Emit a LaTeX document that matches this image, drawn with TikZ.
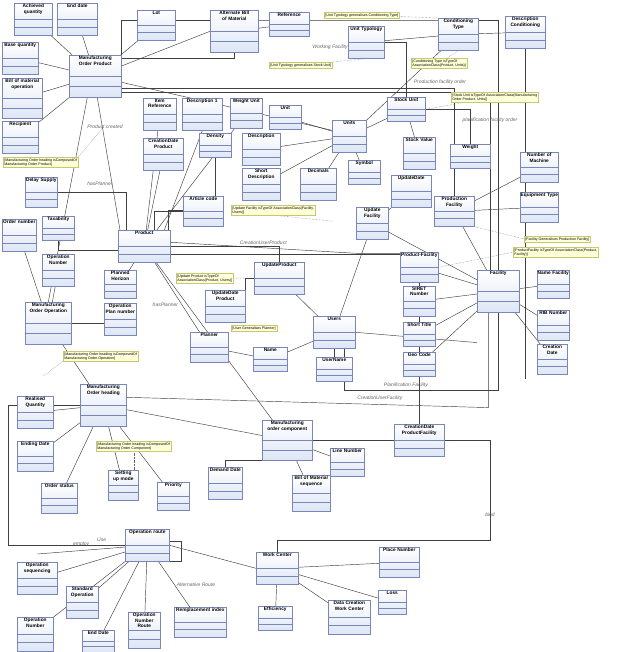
\documentclass[tikz,border=0pt]{standalone}
\usetikzlibrary{calc}
\usepackage{fontspec}
\setmainfont{Liberation Sans}
\definecolor{ubord}{HTML}{7B86B8}
\definecolor{ufill}{HTML}{DDE6F6}
\definecolor{nfill}{HTML}{FFFFD8}
\definecolor{nbord}{HTML}{C8C870}
\pgfdeclarelayer{bg}
\pgfsetlayers{bg,main}
\hyphenpenalty=10000
\tikzset{
 ubox/.style={draw=ubord,line width=0.6pt,top color=white,bottom color=ufill,inner sep=0pt},
 utitle/.style={font=\fontsize{4.8}{5.4}\selectfont\bfseries,align=center,inner sep=1pt},
 conn/.style={draw=black!75,line width=0.45pt},
 notebox/.style={draw=nbord,fill=nfill,font=\fontsize{3.6}{4.1}\selectfont,align=left,inner sep=1.2pt,anchor=north west},
 dotl/.style={draw=black!60,densely dotted,line width=0.4pt},
 rl/.style={font=\fontsize{5}{5}\selectfont\itshape,text=black!60},
}
\newcommand\uml[6]{%
 \node[ubox,minimum width=#4pt,minimum height=#5pt,anchor=north west] (#1) at (#2,#3) {};
 \node[utitle,text width=#4pt,anchor=north] at (#1.north) {\hyphenpenalty=10000 #6};
 \draw[ubord,line width=0.5pt] ($(#1.north west)+(0,0.5*#5)$) -- ++(#4,0);
 \draw[ubord,line width=0.5pt] ($(#1.north west)+(0,0.75*#5)$) -- ++(#4,0);
}
\begin{document}
\begin{tikzpicture}[x=1pt,y=-1pt]
\begin{pgfonlayer}{bg}
\fill[white] (0,0) rectangle (622,652);
\end{pgfonlayer}
\useasboundingbox (0,0) rectangle (622,652);
% ---- classes
\uml{ach}{14}{3}{38}{32}{Achieved quantity}
\uml{endd}{57}{3}{40}{32}{End date}
\uml{base}{2}{42}{36}{32}{Base quantity}
\uml{bom}{2}{78}{40}{40}{Bill of material operation}
\uml{recip}{2}{121}{36}{32}{Recipient}
\uml{mop}{69}{55}{52}{42}{Manufacturing Order Product}
\uml{lot}{137}{10}{38}{30}{Lot}
\uml{abom}{210}{10}{48}{42}{Alternate Bill of Material}
\uml{ref}{269}{12}{40}{24}{Reference}
\uml{utyp}{348}{26}{36}{32}{Unit Typology}
\uml{ctyp}{438}{18}{40}{32}{Conditioning Type}
\uml{dcond}{505}{16}{40}{32}{Description Conditioning}
\uml{iref}{143}{98}{33}{32}{Item Reference}
\uml{desc1}{182}{98}{40}{32}{Description 1}
\uml{wunit}{230}{98}{32}{30}{Weight Unit}
\uml{unit}{269}{105}{32}{24}{Unit}
\uml{descr}{242}{133}{38}{32}{Description}
\uml{sdesc}{242}{168}{38}{32}{Short Description}
\uml{dec}{300}{168}{36}{32}{Decimals}
\uml{units}{332}{120}{34}{32}{Units}
\uml{sunit}{387}{97}{38}{24}{Stock Unit}
\uml{sval}{403}{137}{32}{32}{Stock Value}
\uml{sym}{348}{160}{32}{24}{Symbol}
\uml{weight}{450}{144}{40}{24}{Weight}
\uml{cdp}{143}{138}{40}{32}{CreationDate Product}
\uml{dens}{199}{133}{32}{24}{Density}
\uml{delay}{25}{177}{32}{30}{Delay Supply}
\uml{art}{183}{196}{40}{30}{Article code}
\uml{upd}{391}{175}{40}{32}{UpdateDate}
\uml{ufac}{356}{207}{32}{32}{Update Facility}
\uml{pfac}{434}{196}{40}{30}{Production Facility}
\uml{nmach}{520}{152}{38}{30}{Number of Machine}
\uml{etyp}{520}{192}{38}{30}{Equipment Type}
\uml{onum}{2}{219}{34}{32}{Order number}
\uml{tax}{42}{216}{32}{24}{Taxability}
\uml{prod}{118}{230}{52}{32}{Product}
\uml{opn}{42}{254}{32}{32}{Operation Number}
\uml{phor}{104}{270}{32}{28}{Planned Horizon}
\uml{opp}{104}{303}{32}{32}{Operation Plan number}
\uml{uprod}{254}{262}{50}{32}{UpdateProduct}
\uml{udp}{205}{290}{40}{32}{UpdateDate Product}
\uml{moo}{25}{302}{46}{42}{Manufacturing Order Operation}
\uml{pf}{400}{252}{38}{30}{Product-Facility}
\uml{fac}{477}{270}{42}{42}{Facility}
\uml{siret}{403}{286}{32}{30}{SIRET Number}
\uml{stit}{403}{322}{32}{24}{Short Title}
\uml{geo}{403}{352}{32}{24}{Geo Code}
\uml{nfac}{537}{270}{32}{28}{Name Facility}
\uml{rib}{537}{310}{32}{30}{RIB Number}
\uml{cdate}{537}{344}{30}{30}{Creation Date}
\uml{plan}{190}{332}{38}{30}{Planner}
\uml{name}{253}{347}{34}{24}{Name}
\uml{users}{313}{316}{42}{32}{Users}
\uml{uname}{316}{357}{36}{24}{UserName}
\uml{moh}{80}{384}{46}{42}{Manufacturing Order heading}
\uml{rq}{17}{396}{36}{32}{Realised Quantity}
\uml{edate}{17}{441}{36}{30}{Ending Date}
\uml{ost}{41}{483}{36}{30}{Order status}
\uml{sum}{108}{470}{30}{30}{Setting up mode}
\uml{prio}{157}{482}{32}{28}{Priority}
\uml{ddate}{208}{467}{34}{32}{Demand Date}
\uml{moc}{262}{420}{50}{40}{Manufacturing order component}
\uml{lnum}{330}{448}{34}{28}{Line Number}
\uml{bseq}{292}{475}{38}{36}{Bill of Material sequence}
\uml{cdpf}{394}{424}{50}{32}{CreationDate ProductFacility}
\uml{oroute}{125}{529}{44}{32}{Operation route}
\uml{wc}{256}{552}{42}{32}{Work Center}
\uml{place}{379}{547}{40}{30}{Place Number}
\uml{loss}{378}{590}{28}{24}{Loss}
\uml{oseq}{17}{562}{40}{32}{Operation sequencing}
\uml{sop}{66}{586}{32}{32}{Standard Operation}
\uml{onr}{128}{612}{32}{36}{Operation Number Route}
\uml{rind}{174}{607}{52}{30}{Remplacement index}
\uml{end2}{82}{630}{32}{22}{End Date}
\uml{opn2}{17}{617}{36}{34}{Operation Number}
\uml{eff}{258}{606}{34}{24}{Efficiency}
\uml{dcwc}{328}{600}{42}{34}{Data Creation Work Center}
% ---- connectors
\begin{pgfonlayer}{bg}
\begin{scope}[conn]
\draw (mop) -- (ach); \draw (mop) -- (endd); \draw (mop) -- (base);
\draw (mop) -- (bom); \draw (mop) -- (recip); \draw (mop) -- (lot);
\draw (mop) -- (abom.west); \draw (abom) -- (ref);
\draw (utyp) -- (ctyp); \draw (ctyp) -- (dcond); \draw (ctyp) -- (units);
\draw (dcond.south) -- ++(0,330);
\draw (units) -- (unit); \draw (units) -- (descr); \draw (units) -- (sdesc);
\draw (units) -- (dec); \draw (units) -- (sym); \draw (units) -- (sunit);
\draw (sunit) -- (sval); \draw (sunit.east) -| (weight.north);
\draw (sunit.north) |- (utyp.east);
\draw (prod) -- (wunit); \draw (prod.north) ++(10,0) |- (art.west);
\draw (prod) -- (iref); \draw (prod) -- (cdp);
\draw (prod.north) ++(20,0) -- (desc1.south);
\draw (prod.north) ++(24,0) |- ++(0,-20) -| (dens.south);
\draw (delay.east) -| ($(prod.north west)+(8,0)$);
\draw (tax.south) |- ($(prod.west)+(0,4)$);
\draw (prod) -- (phor); \draw (prod.east) -| (uprod.north);
\draw (uprod) -| (udp.east);
\draw (prod) -- node[rl,pos=0.6,left]{hasPlanner} (plan);
\draw ($(prod.east)+(0,8)$) -| (pf.west);
\draw (pf) -- (fac); \draw (pf.south) -- (cdpf.north);
\draw (ufac) -- (upd); \draw (ufac) -- (users); \draw (ufac) -- (fac);
\draw (pfac) -- (nmach); \draw (pfac) -- (etyp); \draw (pfac) -- (fac);
\draw (fac) -- (nfac); \draw (fac) -- (rib); \draw (fac) -- (cdate);
\draw (fac) -- (siret); \draw (fac) -- (stit); \draw (fac) -- (geo);
\draw (users) -- (uprod); \draw (users) -- (name); \draw (users) -- (uname);
\draw (plan) -- (name);
\draw (users.east) -- node[rl,above]{Produce} ($(fac.south west)+(0,30)$);
\draw (onum) -- (moo); \draw (opn) -- (moo); \draw (moo.east) -| (opp.south);
\draw (moo) -- (moh);
\draw (moh) -- (rq); \draw (moh) -- (edate); \draw (moh) -- (ost);
\draw (moh) -- (sum); \draw (moh) -- (prio); \draw (moh) -- (moc);
\draw (moc) -- (lnum); \draw (moc) -- (bseq); \draw (moc.south west) -| (ddate.north);
\draw (prod) -- (moc);
\draw (mop.south) ++(-8,0) -- (moo.north);
\draw ($(mop.south)+(2,0)$) -- ($(prod.north west)+(2,0)$);
\draw ($(mop.east)+(0,6)$) -- node[rl,above,pos=0.55]{UOM} ($(units.west)+(0,-6)$);
\draw ($(mop.north east)+(0,3)$) -| (abom.south);
\draw (mop.north east) |- (380,20) -| (fac.north);
\node[rl] at (330,47) {Working Facility};
\draw ($(mop.east)+(0,12)$) -| (pfac.north);
\node[rl] at (440,82) {Production facility order};
\draw ($(mop.east)+(0,16)$) -| ($(fac.north)+(-8,0)$);
\node[rl] at (490,120) {planification facility order};
\draw (prod.east) ++(0,-4) -- node[rl,above]{CreationUserProduct} ($(ufac.west)+(0,30)$) -- ($(ufac.west)+(44,30)$);
\draw ($(users.south)+(10,0)$) |- node[rl,above,pos=0.7]{Planification Facility} ($(fac.south)+(0,78)$) -- (fac.south);
\draw ($(moh.east)+(0,-8)$) -- node[rl,above,pos=0.7]{CreationUserFacility} ($(fac.south)+(-10,95)$) -- ($(fac.south)+(-10,0)$);
\draw (oroute) -- (oseq); \draw (oroute) -- (sop); \draw (oroute) -- (onr);
\draw (oroute) -- (rind); \draw (oroute) -- (end2); \draw (oroute.south west) -- (opn2.north east);
\draw (oroute) -- node[rl,above]{employ} ($(oseq.north)+(0,-8)$);
\draw (oroute.east) -- (wc.west);
\draw (oroute.south east) -- ++(12,0) -- ++(0,-20) -- ++(-20,0);
\node[rl] at (196,585) {Alternative Route};
\draw (wc) -- (place); \draw (wc) -- (loss); \draw (wc) -- (eff); \draw (wc) -- (dcwc);
\draw (moh.west) -- ++(-72,0) |- node[rl,above,pos=0.9]{Use} (oroute.west);
\draw (moc.east) -| node[rl,above,pos=0.9]{bind} (490,540) -| (wc.north);
\end{scope}
\end{pgfonlayer}
\node[rl] at (105,127) {Product created};
\node[rl] at (100,184) {hasPlanner};
% ---- notes
\node[notebox] (n1) at (324,12) {[Unit Typology generalises Conditioning Type]};
\node[notebox] (n2) at (269,62) {[Unit Typology generalises Stock Unit]};
\node[notebox] (n3) at (411,58) {[Conditioning Type isTypeOf\\ AssociationClass(Product, Units)]};
\node[notebox] (n4) at (451,92) {[Stock Unit isTypeOf AssociationClass(Manufacturing\\ Order Product, Units)]};
\node[notebox] (n5) at (3,157) {[Manufacturing Order heading isComposedOf\\ Manufacturing Order Product]};
\node[notebox] (n6) at (231,205) {[Update Facility isTypeOf AssociationClass(Facility,\\ Users)]};
\node[notebox] (n7) at (176,273) {[Update Product isTypeOf\\ AssociationClass(Product, Users)]};
\node[notebox] (n8) at (231,325) {[User Generalises Planner]};
\node[notebox] (n9) at (524,236) {[Facility Generalises Production Facility]};
\node[notebox] (n10) at (513,247) {[ProductFacility isTypeOf AssociationClass(Product,\\ Facility)]};
\node[notebox] (n11) at (63,351) {[Manufacturing Order heading isComposedOf\\ Manufacturing Order Operation]};
\node[notebox] (n12) at (96,441) {[Manufacturing Order heading isComposedOf\\ Manufacturing Order Component]};
\begin{pgfonlayer}{bg}
\draw[dotl] (n1) -- (ctyp.north west); \draw[dotl] (n2) -- (utyp.south);
\draw[dotl] (n3) -- (ctyp.south); \draw[dotl] (n4) -- (sunit.east);
\draw[dotl] (n5.north east) -- ++(25,-30); \draw[dotl] (n6.south) -- ++(60,6);
\draw[dotl] (n7.east) -- (uprod.west); \draw[dotl] (n9.west) -- (pfac.south east);
\draw[dotl] (n10.west) -- (pf.east); \draw[dotl] (n11.south west) -- ++(-20,15);
\draw[dotl] (n12.south) -- ++(0,25);
\end{pgfonlayer}
\end{tikzpicture}
\end{document}
